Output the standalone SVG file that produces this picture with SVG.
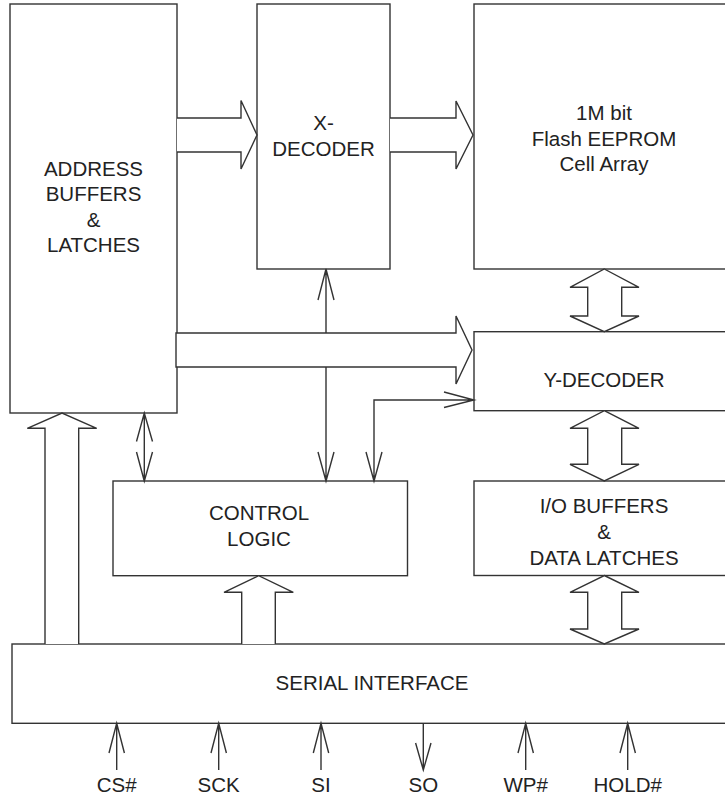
<svg xmlns="http://www.w3.org/2000/svg" width="725" height="797" viewBox="0 0 725 797">
<style>
.box{fill:#fff;stroke:#333;stroke-width:1.4}
.ln{fill:none;stroke:#333;stroke-width:1.4}
.fat{fill:#fff;stroke:#333;stroke-width:1.4;stroke-linejoin:miter}
text{font-family:"Liberation Sans",Arial,Helvetica,sans-serif;font-size:20.5px;fill:#222;text-anchor:middle}
</style>
<rect width="725" height="797" fill="#fff"/>
<g id="address">
<rect class="box" x="10" y="4" width="167" height="409"/>
<text x="93.5" y="175.5">ADDRESS</text>
<text x="93.5" y="201">BUFFERS</text>
<text x="93.5" y="226.5">&amp;</text>
<text x="93.5" y="252">LATCHES</text>
</g>
<g id="xdecoder">
<rect class="box" x="257" y="4" width="133" height="265"/>
<text x="323.5" y="130">X-</text>
<text x="323.5" y="155.5">DECODER</text>
</g>
<g id="flash">
<rect class="box" x="474" y="4" width="260" height="265"/>
<text x="604" y="120">1M bit</text>
<text x="604" y="145.5">Flash EEPROM</text>
<text x="604" y="171">Cell Array</text>
</g>
<g id="ydecoder">
<rect class="box" x="474" y="331.7" width="260" height="79"/>
<text x="604" y="387">Y-DECODER</text>
</g>
<g id="control">
<rect class="box" x="113" y="481" width="294.5" height="94.7"/>
<text x="259" y="520">CONTROL</text>
<text x="259" y="545.5">LOGIC</text>
</g>
<g id="io">
<rect class="box" x="474" y="481" width="260" height="94.5"/>
<text x="604" y="513">I/O BUFFERS</text>
<text x="604" y="538.5">&amp;</text>
<text x="604" y="564.5">DATA LATCHES</text>
</g>
<g id="serial">
<rect class="box" x="12" y="644" width="722" height="79.3"/>
<text x="372" y="690">SERIAL INTERFACE</text>
</g>
<g id="connectors">
<path class="fat" d="M177,118 H241 V100.5 L257,135 L241,169 V152 H177"/>
<path class="fat" d="M390,118 H456 V101 L473,135 L456,169 V152 H390"/>
<path class="ln" d="M326,269 V481 M318,300 L326,269 L334,300 M318,452 L326,481 L334,452"/>
<path class="fat" d="M176,333 H456 V316 L472,350 L456,384 V367 H176 Z"/>
<path class="ln" d="M374,481 V400 H474 M444,392 L474,400 L444,407.5 M366,452 L374,481 L382,452"/>
<path class="ln" d="M144.3,413 V481 M136.5,441.5 L144.3,413 L152.5,441.5 M136.5,452 L144.3,481 L152.5,452"/>
<path class="fat" d="M45,644 V428.3 H27.3 L62,413 L96.7,428.3 H78.7 V644"/>
<path class="fat" d="M241.7,644 V592.3 H224 L258.7,575.7 L293.3,592.3 H275.3 V644"/>
<path class="fat" d="M604.3,269 L639,287.3 H621.7 V316 H639 L604.3,331.7 L570,316 H587.7 V287.3 H570 Z"/>
<path class="fat" d="M604.3,410.7 L639,428.3 H621.7 V464.3 H639 L604.3,481 L570,464.3 H587.7 V428.3 H570 Z"/>
<path class="fat" d="M604.3,575.5 L639,592.3 H621.7 V629 H639 L604.3,644 L570,629 H587.7 V592.3 H570 Z"/>
<path class="ln" d="M116.7,723.3 V770 M109,753 L116.7,723.3 L124.4,753"/>
<path class="ln" d="M218.7,723.3 V770 M211,753 L218.7,723.3 L226.4,753"/>
<path class="ln" d="M321,723.3 V770 M313.3,753 L321,723.3 L328.7,753"/>
<path class="ln" d="M423.3,723.3 V770 M415.6,743 L423.3,770 L431,743"/>
<path class="ln" d="M525.7,723.3 V770 M518,753 L525.7,723.3 L533.4,753"/>
<path class="ln" d="M627.7,723.3 V770 M620,753 L627.7,723.3 L635.4,753"/>
</g>
<g id="pins">
<text x="116.7" y="791.5">CS#</text>
<text x="218.7" y="791.5">SCK</text>
<text x="321" y="791.5">SI</text>
<text x="423.3" y="791.5">SO</text>
<text x="525.7" y="791.5">WP#</text>
<text x="627.7" y="791.5">HOLD#</text>
</g>
</svg>
